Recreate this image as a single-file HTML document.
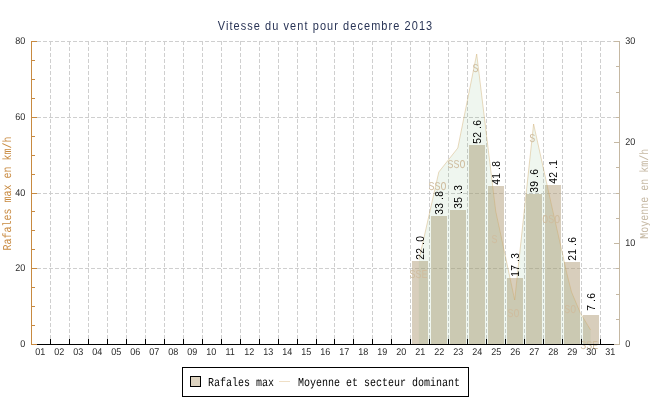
<!DOCTYPE html>
<html><head><meta charset="utf-8"><title>Vitesse du vent pour decembre 2013</title>
<style>html,body{margin:0;padding:0;background:#fff;overflow:hidden}svg{display:block;will-change:transform}text{font-family:"Liberation Sans",sans-serif}.t{text-rendering:geometricPrecision}.m{font-family:"Liberation Mono",monospace;text-rendering:geometricPrecision}</style>
</head><body>
<svg width="650" height="400" viewBox="0 0 650 400">
<rect width="650" height="400" fill="#fff"/>
<g stroke="#cfcfcf" stroke-width="1" shape-rendering="crispEdges" stroke-dasharray="4 2">
<line x1="50.5" y1="41" x2="50.5" y2="344"/>
<line x1="69.5" y1="41" x2="69.5" y2="344"/>
<line x1="88.5" y1="41" x2="88.5" y2="344"/>
<line x1="107.5" y1="41" x2="107.5" y2="344"/>
<line x1="126.5" y1="41" x2="126.5" y2="344"/>
<line x1="145.5" y1="41" x2="145.5" y2="344"/>
<line x1="164.5" y1="41" x2="164.5" y2="344"/>
<line x1="183.5" y1="41" x2="183.5" y2="344"/>
<line x1="202.5" y1="41" x2="202.5" y2="344"/>
<line x1="221.5" y1="41" x2="221.5" y2="344"/>
<line x1="240.5" y1="41" x2="240.5" y2="344"/>
<line x1="259.5" y1="41" x2="259.5" y2="344"/>
<line x1="278.5" y1="41" x2="278.5" y2="344"/>
<line x1="297.5" y1="41" x2="297.5" y2="344"/>
<line x1="316.5" y1="41" x2="316.5" y2="344"/>
<line x1="334.5" y1="41" x2="334.5" y2="344"/>
<line x1="353.5" y1="41" x2="353.5" y2="344"/>
<line x1="372.5" y1="41" x2="372.5" y2="344"/>
<line x1="391.5" y1="41" x2="391.5" y2="344"/>
<line x1="410.5" y1="41" x2="410.5" y2="344"/>
<line x1="429.5" y1="41" x2="429.5" y2="344"/>
<line x1="448.5" y1="41" x2="448.5" y2="344"/>
<line x1="467.5" y1="41" x2="467.5" y2="344"/>
<line x1="486.5" y1="41" x2="486.5" y2="344"/>
<line x1="505.5" y1="41" x2="505.5" y2="344"/>
<line x1="524.5" y1="41" x2="524.5" y2="344"/>
<line x1="543.5" y1="41" x2="543.5" y2="344"/>
<line x1="562.5" y1="41" x2="562.5" y2="344"/>
<line x1="581.5" y1="41" x2="581.5" y2="344"/>
<line x1="600.5" y1="41" x2="600.5" y2="344"/>
<line x1="31" y1="41.5" x2="619" y2="41.5"/>
<line x1="31" y1="117.5" x2="619" y2="117.5"/>
<line x1="31" y1="193.5" x2="619" y2="193.5"/>
<line x1="31" y1="268.5" x2="619" y2="268.5"/>
</g>
<g shape-rendering="crispEdges">
<rect x="412" y="261" width="16" height="83" fill="rgba(177,157,121,0.5)"/>
<rect x="431" y="216" width="16" height="128" fill="rgba(177,157,121,0.5)"/>
<rect x="450" y="210" width="16" height="134" fill="rgba(177,157,121,0.5)"/>
<rect x="469" y="145" width="16" height="199" fill="rgba(177,157,121,0.5)"/>
<rect x="488" y="186" width="16" height="158" fill="rgba(177,157,121,0.5)"/>
<rect x="507" y="278" width="16" height="66" fill="rgba(177,157,121,0.5)"/>
<rect x="526" y="194" width="16" height="150" fill="rgba(177,157,121,0.5)"/>
<rect x="545" y="185" width="16" height="159" fill="rgba(177,157,121,0.5)"/>
<rect x="564" y="262" width="16" height="82" fill="rgba(177,157,121,0.5)"/>
<rect x="583" y="315" width="16" height="29" fill="rgba(177,157,121,0.5)"/>
</g>
<polygon points="418.9,344 418.9,260 438.8,172 457.8,148 476.7,54 495.7,211 514.7,300 533.6,124 552.6,210 561.9,251 566.6,272.5 571.5,292 580.6,313.5 590.6,330 590.6,344" fill="rgba(80,150,80,0.09)"/>
<polyline points="418.9,260 438.8,172 457.8,148 476.7,54 495.7,211 514.7,300 533.6,124 552.6,210 561.9,251 566.6,272.5 571.5,292 580.6,313.5 590.6,330" fill="none" stroke="rgba(205,165,100,0.45)" stroke-width="0.9"/>
<text class="m lab" x="409.5" y="278" font-size="12" textLength="18" lengthAdjust="spacingAndGlyphs" fill="#cfbd9f">SSE</text>
<text class="m lab" x="428.5" y="190" font-size="12" textLength="18" lengthAdjust="spacingAndGlyphs" fill="#cfbd9f">SSO</text>
<text class="m lab" x="447.5" y="168" font-size="12" textLength="18" lengthAdjust="spacingAndGlyphs" fill="#cfbd9f">SSO</text>
<text class="m lab" x="472.4" y="71.5" font-size="12" textLength="6" lengthAdjust="spacingAndGlyphs" fill="#cfbd9f">S</text>
<text class="m lab" x="491.4" y="242.5" font-size="12" textLength="6" lengthAdjust="spacingAndGlyphs" fill="#cfbd9f">S</text>
<text class="m lab" x="507.4" y="317" font-size="12" textLength="12" lengthAdjust="spacingAndGlyphs" fill="#cfbd9f">SO</text>
<text class="m lab" x="529.3" y="142.4" font-size="12" textLength="6" lengthAdjust="spacingAndGlyphs" fill="#cfbd9f">S</text>
<text class="m lab" x="542.3" y="222.8" font-size="12" textLength="18" lengthAdjust="spacingAndGlyphs" fill="#cfbd9f">OSO</text>
<text class="m lab" x="564.3" y="313.3" font-size="12" textLength="12" lengthAdjust="spacingAndGlyphs" fill="#cfbd9f">SO</text>
<text class="m lab" x="580.2" y="348.6" font-size="12" textLength="18" lengthAdjust="spacingAndGlyphs" fill="#cfbd9f">SSE</text>
<text transform="translate(424.2,260) rotate(-90) scale(0.9,1)" x="0.22 6.89 16.67 20.22" font-size="11.4" fill="#000">22.0</text>
<text transform="translate(443.2,215) rotate(-90) scale(0.9,1)" x="0.22 6.89 16.67 20.22" font-size="11.4" fill="#000">33.8</text>
<text transform="translate(462.2,209) rotate(-90) scale(0.9,1)" x="0.22 6.89 16.67 20.22" font-size="11.4" fill="#000">35.3</text>
<text transform="translate(481.1,144) rotate(-90) scale(0.9,1)" x="0.22 6.89 16.67 20.22" font-size="11.4" fill="#000">52.6</text>
<text transform="translate(500.1,185) rotate(-90) scale(0.9,1)" x="0.22 6.89 16.67 20.22" font-size="11.4" fill="#000">41.8</text>
<text transform="translate(519.1,277) rotate(-90) scale(0.9,1)" x="0.22 6.89 16.67 20.22" font-size="11.4" fill="#000">17.3</text>
<text transform="translate(538.0,193) rotate(-90) scale(0.9,1)" x="0.22 6.89 16.67 20.22" font-size="11.4" fill="#000">39.6</text>
<text transform="translate(557.0,184) rotate(-90) scale(0.9,1)" x="0.22 6.89 16.67 20.22" font-size="11.4" fill="#000">42.1</text>
<text transform="translate(576.0,261) rotate(-90) scale(0.9,1)" x="0.22 6.89 16.67 20.22" font-size="11.4" fill="#000">21.6</text>
<text transform="translate(594.9,311) rotate(-90) scale(0.9,1)" x="0.22 10.00 13.56" font-size="11.4" fill="#000">7.6</text>
<g shape-rendering="crispEdges">
<rect x="31" y="344" width="588" height="1" fill="#000"/>
<rect x="50" y="339" width="1" height="5" fill="#000"/>
<rect x="69" y="339" width="1" height="5" fill="#000"/>
<rect x="88" y="339" width="1" height="5" fill="#000"/>
<rect x="107" y="339" width="1" height="5" fill="#000"/>
<rect x="126" y="339" width="1" height="5" fill="#000"/>
<rect x="145" y="339" width="1" height="5" fill="#000"/>
<rect x="164" y="339" width="1" height="5" fill="#000"/>
<rect x="183" y="339" width="1" height="5" fill="#000"/>
<rect x="202" y="339" width="1" height="5" fill="#000"/>
<rect x="221" y="339" width="1" height="5" fill="#000"/>
<rect x="240" y="339" width="1" height="5" fill="#000"/>
<rect x="259" y="339" width="1" height="5" fill="#000"/>
<rect x="278" y="339" width="1" height="5" fill="#000"/>
<rect x="297" y="339" width="1" height="5" fill="#000"/>
<rect x="316" y="339" width="1" height="5" fill="#000"/>
<rect x="334" y="339" width="1" height="5" fill="#000"/>
<rect x="353" y="339" width="1" height="5" fill="#000"/>
<rect x="372" y="339" width="1" height="5" fill="#000"/>
<rect x="391" y="339" width="1" height="5" fill="#000"/>
<rect x="410" y="339" width="1" height="5" fill="#000"/>
<rect x="429" y="339" width="1" height="5" fill="#000"/>
<rect x="448" y="339" width="1" height="5" fill="#000"/>
<rect x="467" y="339" width="1" height="5" fill="#000"/>
<rect x="486" y="339" width="1" height="5" fill="#000"/>
<rect x="505" y="339" width="1" height="5" fill="#000"/>
<rect x="524" y="339" width="1" height="5" fill="#000"/>
<rect x="543" y="339" width="1" height="5" fill="#000"/>
<rect x="562" y="339" width="1" height="5" fill="#000"/>
<rect x="581" y="339" width="1" height="5" fill="#000"/>
<rect x="600" y="339" width="1" height="5" fill="#000"/>
<rect x="31" y="41" width="1" height="304" fill="#c88a40"/>
<rect x="31" y="344" width="6" height="1" fill="#c88a40"/>
<rect x="31" y="325" width="4" height="1" fill="#c88a40"/>
<rect x="31" y="306" width="4" height="1" fill="#c88a40"/>
<rect x="31" y="287" width="4" height="1" fill="#c88a40"/>
<rect x="31" y="268" width="6" height="1" fill="#c88a40"/>
<rect x="31" y="249" width="4" height="1" fill="#c88a40"/>
<rect x="31" y="230" width="4" height="1" fill="#c88a40"/>
<rect x="31" y="211" width="4" height="1" fill="#c88a40"/>
<rect x="31" y="193" width="6" height="1" fill="#c88a40"/>
<rect x="31" y="174" width="4" height="1" fill="#c88a40"/>
<rect x="31" y="155" width="4" height="1" fill="#c88a40"/>
<rect x="31" y="136" width="4" height="1" fill="#c88a40"/>
<rect x="31" y="117" width="6" height="1" fill="#c88a40"/>
<rect x="31" y="98" width="4" height="1" fill="#c88a40"/>
<rect x="31" y="79" width="4" height="1" fill="#c88a40"/>
<rect x="31" y="60" width="4" height="1" fill="#c88a40"/>
<rect x="31" y="41" width="6" height="1" fill="#c88a40"/>
<rect x="619" y="41" width="1" height="304" fill="#c5b8a3"/>
<rect x="614" y="344" width="6" height="1" fill="#c5b8a3"/>
<rect x="616" y="319" width="4" height="1" fill="#c5b8a3"/>
<rect x="616" y="294" width="4" height="1" fill="#c5b8a3"/>
<rect x="616" y="268" width="4" height="1" fill="#c5b8a3"/>
<rect x="614" y="243" width="6" height="1" fill="#c5b8a3"/>
<rect x="616" y="218" width="4" height="1" fill="#c5b8a3"/>
<rect x="616" y="193" width="4" height="1" fill="#c5b8a3"/>
<rect x="616" y="167" width="4" height="1" fill="#c5b8a3"/>
<rect x="614" y="142" width="6" height="1" fill="#c5b8a3"/>
<rect x="616" y="117" width="4" height="1" fill="#c5b8a3"/>
<rect x="616" y="92" width="4" height="1" fill="#c5b8a3"/>
<rect x="616" y="66" width="4" height="1" fill="#c5b8a3"/>
<rect x="614" y="41" width="6" height="1" fill="#c5b8a3"/>
</g>
<text transform="translate(25.2,347) scale(0.92,1)" class="t" font-size="9.8" text-anchor="end" fill="#2a2a2a">0</text>
<text transform="translate(25.2,271) scale(0.92,1)" class="t" font-size="9.8" text-anchor="end" fill="#2a2a2a">20</text>
<text transform="translate(25.2,196) scale(0.92,1)" class="t" font-size="9.8" text-anchor="end" fill="#2a2a2a">40</text>
<text transform="translate(25.2,120) scale(0.92,1)" class="t" font-size="9.8" text-anchor="end" fill="#2a2a2a">60</text>
<text transform="translate(25.2,44) scale(0.92,1)" class="t" font-size="9.8" text-anchor="end" fill="#2a2a2a">80</text>
<text transform="translate(625.3,347) scale(0.92,1)" class="t" font-size="9.8" fill="#2a2a2a">0</text>
<text transform="translate(625.3,246) scale(0.92,1)" class="t" font-size="9.8" fill="#2a2a2a">10</text>
<text transform="translate(625.3,145) scale(0.92,1)" class="t" font-size="9.8" fill="#2a2a2a">20</text>
<text transform="translate(625.3,44) scale(0.92,1)" class="t" font-size="9.8" fill="#2a2a2a">30</text>
<text transform="translate(40.2,355) scale(0.92,1)" class="t" font-size="9.8" text-anchor="middle" fill="#2a2a2a">01</text>
<text transform="translate(59.2,355) scale(0.92,1)" class="t" font-size="9.8" text-anchor="middle" fill="#2a2a2a">02</text>
<text transform="translate(78.2,355) scale(0.92,1)" class="t" font-size="9.8" text-anchor="middle" fill="#2a2a2a">03</text>
<text transform="translate(97.2,355) scale(0.92,1)" class="t" font-size="9.8" text-anchor="middle" fill="#2a2a2a">04</text>
<text transform="translate(116.2,355) scale(0.92,1)" class="t" font-size="9.8" text-anchor="middle" fill="#2a2a2a">05</text>
<text transform="translate(135.2,355) scale(0.92,1)" class="t" font-size="9.8" text-anchor="middle" fill="#2a2a2a">06</text>
<text transform="translate(154.2,355) scale(0.92,1)" class="t" font-size="9.8" text-anchor="middle" fill="#2a2a2a">07</text>
<text transform="translate(173.2,355) scale(0.92,1)" class="t" font-size="9.8" text-anchor="middle" fill="#2a2a2a">08</text>
<text transform="translate(192.2,355) scale(0.92,1)" class="t" font-size="9.8" text-anchor="middle" fill="#2a2a2a">09</text>
<text transform="translate(211.2,355) scale(0.92,1)" class="t" font-size="9.8" text-anchor="middle" fill="#2a2a2a">10</text>
<text transform="translate(230.2,355) scale(0.92,1)" class="t" font-size="9.8" text-anchor="middle" fill="#2a2a2a">11</text>
<text transform="translate(249.2,355) scale(0.92,1)" class="t" font-size="9.8" text-anchor="middle" fill="#2a2a2a">12</text>
<text transform="translate(268.2,355) scale(0.92,1)" class="t" font-size="9.8" text-anchor="middle" fill="#2a2a2a">13</text>
<text transform="translate(287.2,355) scale(0.92,1)" class="t" font-size="9.8" text-anchor="middle" fill="#2a2a2a">14</text>
<text transform="translate(306.2,355) scale(0.92,1)" class="t" font-size="9.8" text-anchor="middle" fill="#2a2a2a">15</text>
<text transform="translate(325.2,355) scale(0.92,1)" class="t" font-size="9.8" text-anchor="middle" fill="#2a2a2a">16</text>
<text transform="translate(344.2,355) scale(0.92,1)" class="t" font-size="9.8" text-anchor="middle" fill="#2a2a2a">17</text>
<text transform="translate(363.2,355) scale(0.92,1)" class="t" font-size="9.8" text-anchor="middle" fill="#2a2a2a">18</text>
<text transform="translate(382.2,355) scale(0.92,1)" class="t" font-size="9.8" text-anchor="middle" fill="#2a2a2a">19</text>
<text transform="translate(401.2,355) scale(0.92,1)" class="t" font-size="9.8" text-anchor="middle" fill="#2a2a2a">20</text>
<text transform="translate(420.2,355) scale(0.92,1)" class="t" font-size="9.8" text-anchor="middle" fill="#2a2a2a">21</text>
<text transform="translate(439.2,355) scale(0.92,1)" class="t" font-size="9.8" text-anchor="middle" fill="#2a2a2a">22</text>
<text transform="translate(458.2,355) scale(0.92,1)" class="t" font-size="9.8" text-anchor="middle" fill="#2a2a2a">23</text>
<text transform="translate(477.2,355) scale(0.92,1)" class="t" font-size="9.8" text-anchor="middle" fill="#2a2a2a">24</text>
<text transform="translate(496.2,355) scale(0.92,1)" class="t" font-size="9.8" text-anchor="middle" fill="#2a2a2a">25</text>
<text transform="translate(515.2,355) scale(0.92,1)" class="t" font-size="9.8" text-anchor="middle" fill="#2a2a2a">26</text>
<text transform="translate(534.2,355) scale(0.92,1)" class="t" font-size="9.8" text-anchor="middle" fill="#2a2a2a">27</text>
<text transform="translate(553.2,355) scale(0.92,1)" class="t" font-size="9.8" text-anchor="middle" fill="#2a2a2a">28</text>
<text transform="translate(572.2,355) scale(0.92,1)" class="t" font-size="9.8" text-anchor="middle" fill="#2a2a2a">29</text>
<text transform="translate(591.2,355) scale(0.92,1)" class="t" font-size="9.8" text-anchor="middle" fill="#2a2a2a">30</text>
<text transform="translate(610.2,355) scale(0.92,1)" class="t" font-size="9.8" text-anchor="middle" fill="#2a2a2a">31</text>
<text transform="translate(217.7,29.9) scale(0.83,1)" font-size="13.2" textLength="258.4" lengthAdjust="spacing" fill="#283355">Vitesse du vent pour decembre 2013</text>
<text class="m" transform="translate(11.2,250.5) rotate(-90)" font-size="12" textLength="114" lengthAdjust="spacingAndGlyphs" fill="#c88a40">Rafales max en km/h</text>
<text class="m" transform="translate(647.8,238.7) rotate(-90)" font-size="12" textLength="90" lengthAdjust="spacingAndGlyphs" fill="#c5b8a3">Moyenne en km/h</text>
<g shape-rendering="crispEdges">
<rect x="182.5" y="367.5" width="286" height="29" fill="#fff" stroke="#000" stroke-width="1"/>
<rect x="190.5" y="376.5" width="10" height="10" fill="#ddd3c0" stroke="#000" stroke-width="1"/>
<rect x="279" y="381" width="11" height="1" fill="#efdfc6"/>
</g>
<text class="m" x="208" y="386" font-size="12" textLength="66" lengthAdjust="spacingAndGlyphs" fill="#000">Rafales max</text>
<text class="m" x="298" y="386" font-size="12" textLength="162" lengthAdjust="spacingAndGlyphs" fill="#000">Moyenne et secteur dominant</text>
</svg></body></html>
